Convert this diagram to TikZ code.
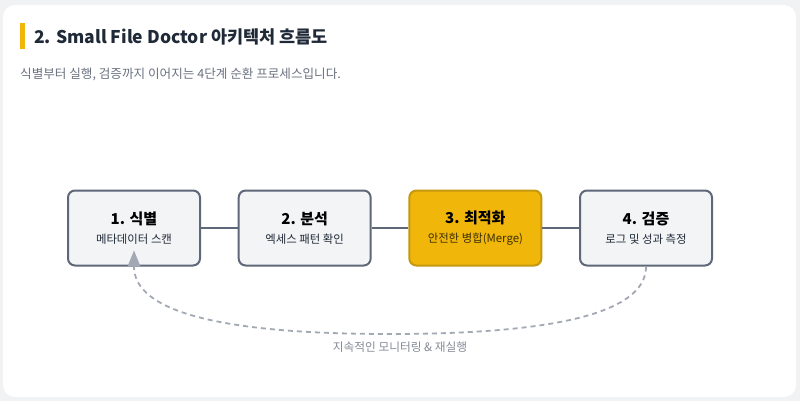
\documentclass[tikz,border=0pt]{standalone}
\usepackage{fontspec}
\setmainfont{Noto Sans CJK KR}
\usetikzlibrary{positioning}
\definecolor{pagebg}{HTML}{F1F2F4}
\definecolor{stageline}{HTML}{5F6878}
\definecolor{stagefill}{HTML}{F3F4F6}
\definecolor{accent}{HTML}{F0B70A}
\definecolor{accentline}{HTML}{C4980F}
\definecolor{loopline}{HTML}{A3A9B4}
\definecolor{headtext}{HTML}{1F2937}
\definecolor{subtext}{HTML}{6B7280}
\definecolor{looptext}{HTML}{858B96}
\tikzstyle{stage} = [draw=stageline, rectangle, fill=stagefill, rounded corners=7pt, line width=2pt,
                     minimum width=132pt, minimum height=75pt, inner sep=0pt, node distance=36.67pt,
                     align=center, text=black]
\tikzstyle{stagehot} = [stage, draw=accentline, fill=accent]
\tikzstyle{link} = [draw=stageline, line width=2pt]
\tikzstyle{loopback} = [draw=loopline, line width=1.8pt, dash pattern=on 5pt off 4pt]
\newcommand{\stagetext}[3]{{\fontsize{15}{21}\selectfont\bfseries #1}\\[7pt]{\fontsize{11.4}{15}\selectfont\color{#3}#2}}
\begin{document}
\begin{tikzpicture}
    [x=1pt, y=-1pt]
    \useasboundingbox (0,0) rectangle (800,401);
    \fill [pagebg] (0,0) rectangle (800,401);
    \fill [white, rounded corners=12pt] (3,5) rectangle (796,397);
    \fill [accent] (20,23) rectangle (24.5,49);

    \node [anchor=west, inner sep=0pt, text=headtext, font=\fontsize{17.5}{22}\selectfont\bfseries] (title) at (34,37) {2. Small File Doctor 아키텍처 흐름도};
    \node [anchor=west, inner sep=0pt, text=subtext, font=\fontsize{12.6}{16}\selectfont] (subtitle) at (20,74) {식별부터 실행, 검증까지 이어지는 4단계 순환 프로세스입니다.};

    \node [stage] (identify) at (134,228) {\stagetext{1. 식별}{메타데이터 스캔}{headtext}};
    \node [stage, right= of identify] (analyze) {\stagetext{2. 분석}{엑세스 패턴 확인}{headtext}};
    \node [stagehot, right= of analyze] (optimize) {\stagetext{3. 최적화}{안전한 병합(Merge)}{black!75!accent}};
    \node [stage, right= of optimize] (verify) {\stagetext{4. 검증}{로그 및 성과 측정}{headtext}};

    \coordinate [above= 16pt of identify.south] (looptip);
    \coordinate (loopmid) at (389.5,334);
    \node [text=looptext, font=\fontsize{11.7}{15}\selectfont] (looplabel) at (400,347) {지속적인 모니터링 \& 재실행};

    \draw [link] (identify) -- (analyze) -- (optimize) -- (verify);

    \draw [loopback] (verify.south) .. controls +(0,38) and (585,334) .. (loopmid) .. controls (194,334) and (134,304) .. (identify.south);
    \fill [loopline] (looptip) -- ([xshift=6.5pt]identify.south) -- ([xshift=-6.5pt]identify.south) -- cycle;
\end{tikzpicture}
\end{document}
